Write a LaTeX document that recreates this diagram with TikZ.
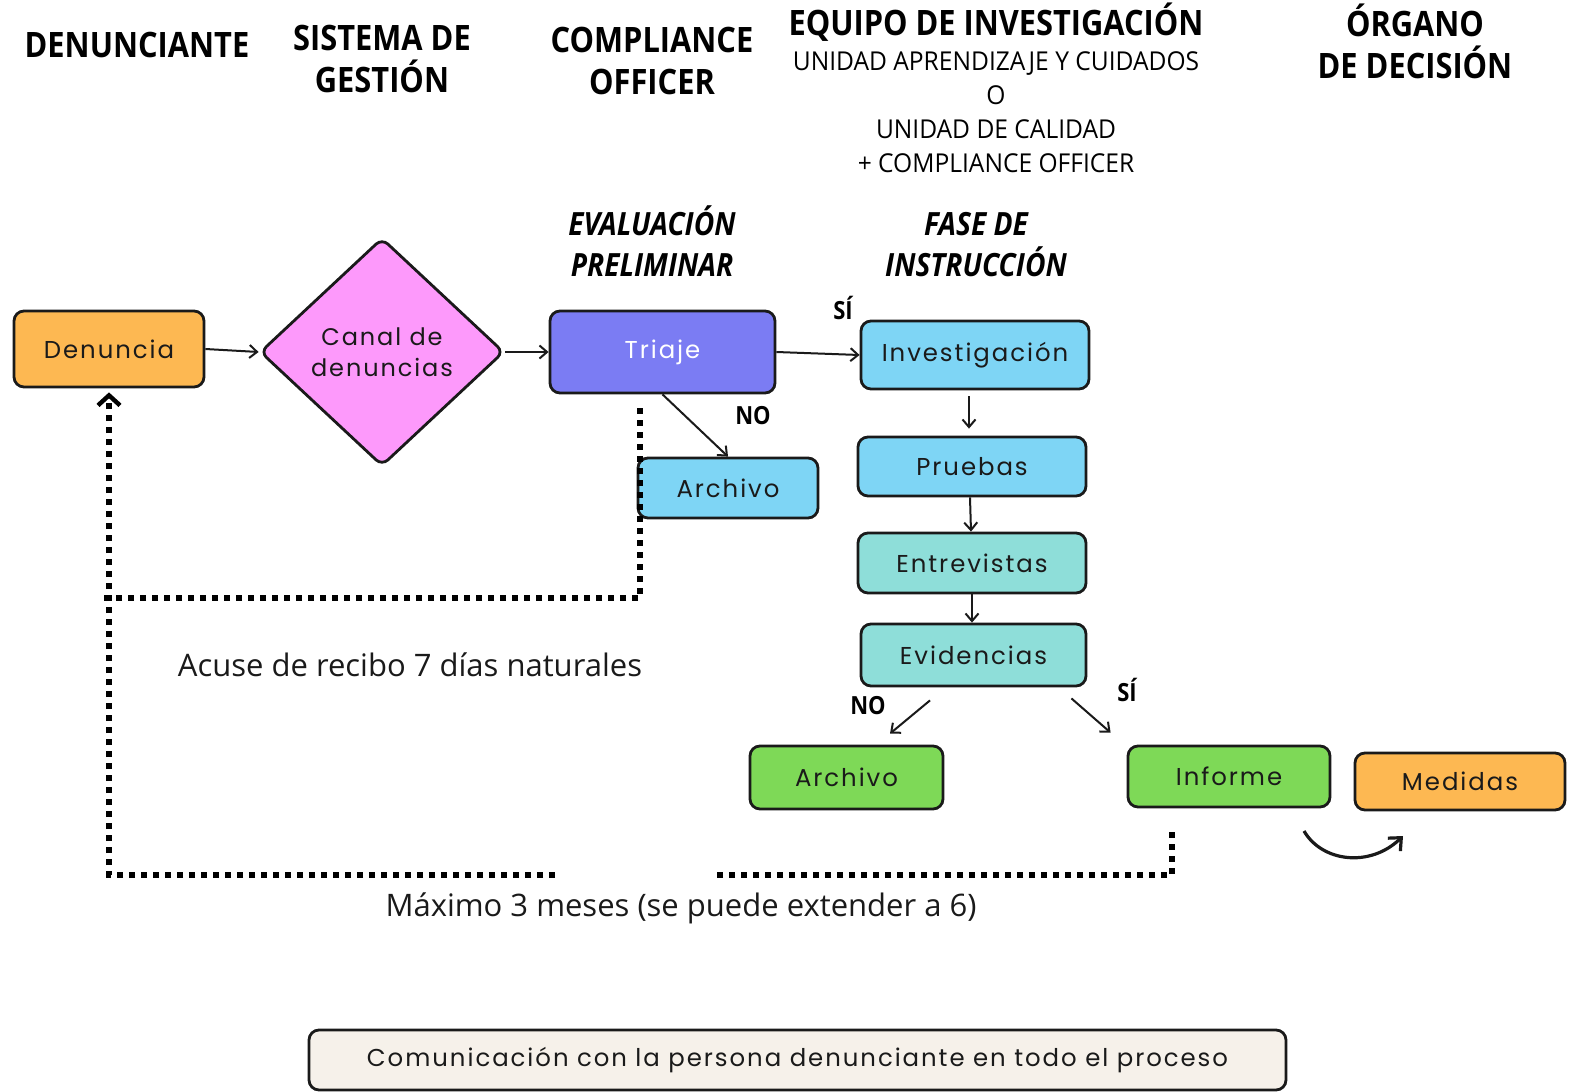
\documentclass[tikz,border=0pt]{standalone}
\usepackage{fontspec}
\usetikzlibrary{arrows.meta,shapes.geometric}
\newfontfamily\hdfont[FakeStretch=0.88]{Open Sans}
\newfontfamily\txfont[FakeStretch=0.945]{Open Sans}
\newfontfamily\ntfont{Open Sans}
\newfontfamily\bxfont[LetterSpace=8]{Poppins}
\definecolor{corange}{HTML}{FDB852}
\definecolor{cpink}{HTML}{FD99FB}
\definecolor{cperi}{HTML}{7B7CF3}
\definecolor{cblue}{HTML}{7ED5F5}
\definecolor{cteal}{HTML}{8EDED9}
\definecolor{cgreen}{HTML}{7ED957}
\definecolor{ccream}{HTML}{F6F1EA}
\definecolor{cink}{HTML}{1A1A1A}
\tikzset{
  head/.style={font=\hdfont\bfseries\fontsize{17.5}{21}\selectfont, align=center, inner sep=0pt, text=black},
  ihead/.style={font=\hdfont\bfseries\itshape\fontsize{16}{20.5}\selectfont, align=center, inner sep=0pt, text=black},
  sub/.style={font=\txfont\fontsize{13}{17}\selectfont, align=center, inner sep=0pt, text=black},
  yn/.style={font=\hdfont\bfseries\fontsize{12.5}{15}\selectfont, inner sep=0pt, text=black},
  note/.style={font=\ntfont\fontsize{15.5}{18}\selectfont, inner sep=0pt, text=cink},
  box/.style={draw=cink, line width=1.4pt, rounded corners=5pt, inner sep=0pt,
    font=\bxfont\fontsize{12.2}{14}\selectfont, text=cink},
  arr/.style={draw=cink, line width=1pt, -{Straight Barb[length=3.8pt,width=6.5pt,line width=1pt]}},
  dots/.style={draw=black, line width=2.6pt, dash pattern=on 2.8pt off 3.2pt},
}
\begin{document}
\begin{tikzpicture}[x=0.5pt,y=-0.5pt]
\useasboundingbox[fill=white] (0,0) rectangle (1570,1092);
% headings
\node[head] (hden) at (137,45) {DENUNCIANTE};
\node[head] (hsis) at (382,59) {SISTEMA DE\\GESTIÓN};
\node[head] (hcom) at (652,61) {COMPLIANCE\\OFFICER};
\node[head] (hequ) at (996,22) {EQUIPO DE INVESTIGACIÓN};
\node[sub] (hsub) at (996,112) {UNIDAD APRENDIZAJE Y CUIDADOS\\O\\UNIDAD DE CALIDAD\\+ COMPLIANCE OFFICER};
\node[head] (horg) at (1415,41) {ÓRGANO\\DE DECISIÓN};
\node[ihead] (heva) at (652,241) {EVALUACIÓN\\PRELIMINAR};
\node[ihead] (hfas) at (976,245) {FASE DE\\INSTRUCCIÓN};
% boxes
\node[box, fill=corange, minimum width=95pt, minimum height=38pt] (den) at (109,349) {Denuncia};
\node[box, fill=cpink, shape=diamond, aspect=1.07, rounded corners=4pt, minimum width=122pt, minimum height=114pt, align=center, font=\bxfont\fontsize{12}{15.5}\selectfont] (dia) at (382,352) {Canal de\\denuncias};
\node[box, fill=cperi, minimum width=112.5pt, minimum height=41pt, text=white] (tri) at (662.5,352) {Triaje};
\node[box, fill=cblue, minimum width=90pt, minimum height=30pt] (arc1) at (728,488) {Archivo};
\node[box, fill=cblue, minimum width=114pt, minimum height=34pt] (inv) at (975,355) {Investigación};
\node[box, fill=cblue, minimum width=114pt, minimum height=29.5pt] (pru) at (972,466.5) {Pruebas};
\node[box, fill=cteal, minimum width=114pt, minimum height=30pt] (ent) at (972,563) {Entrevistas};
\node[box, fill=cteal, minimum width=112.5pt, minimum height=31pt] (evi) at (973.5,655) {Evidencias};
\node[box, fill=cgreen, minimum width=96.5pt, minimum height=31.5pt] (arc2) at (846.5,777.5) {Archivo};
\node[box, fill=cgreen, minimum width=101pt, minimum height=30.5pt] (inf) at (1229,776.5) {Informe};
\node[box, fill=corange, minimum width=105pt, minimum height=28.5pt] (med) at (1460,781.5) {Medidas};
\node[box, fill=ccream, minimum width=488.5pt, minimum height=30pt] (comm) at (797.5,1060) {Comunicación con la persona denunciante en todo el proceso};
% labels
\node[yn] (lsi1) at (843,308) {SÍ};
\node[yn] (lno1) at (753,416) {NO};
\node[yn] (lno2) at (868,706) {NO};
\node[yn] (lsi2) at (1127,690) {SÍ};
\node[note] (nacu) at (410,665) {Acuse de recibo 7 días naturales};
\node[note] (nmax) at (681,908) {Máximo 3 meses (se puede extender a 6)};
% connectors
\draw[arr] (den.east) -- (dia.west);
\draw[arr] (dia.east) -- (tri.west);
\draw[arr] (tri.east) -- (inv.west);
\draw[arr] (tri.south) -- (arc1.north);
\draw[arr] ([shift={(-6,6)}]inv.south) -- ([shift={(-3,-7)}]pru.north);
\draw[arr] ([shift={(-2,0)}]pru.south) -- ([shift={(-1,0)}]ent.north);
\draw[arr] (ent.south) -- ([shift={(-1.5,0)}]evi.north);
\draw[arr] ([shift={(-43.5,13)}]evi.south) -- ([shift={(43.5,-11)}]arc2.north);
\draw[arr] ([shift={(-16,11)}]evi.south east) -- ([shift={(-16,-12)}]inf.north west);
% curved arrow towards Medidas
\coordinate (ca) at (1304,831);
\coordinate (cb) at (1403,836);
\draw[draw=cink, line width=1.6pt, -{Straight Barb[length=5pt,width=9pt,line width=1.6pt]}] (ca) .. controls (1322,862) and (1370,868) .. (cb);
% dotted feedback lines
\coordinate (d1) at (640,408);
\coordinate (d2) at (100,598);
\coordinate (d3) at (555,875);
\coordinate (d4) at (1172,832);
\coordinate (d5) at (715,875);
\draw[dots] (d1) |- (d2);
\draw[dots] (d4) |- (d5);
\draw[dots, -{Straight Barb[length=5pt,width=11pt,line width=2.2pt]}] (d3) -| ([yshift=-2pt]den.south);
\end{tikzpicture}
\end{document}
